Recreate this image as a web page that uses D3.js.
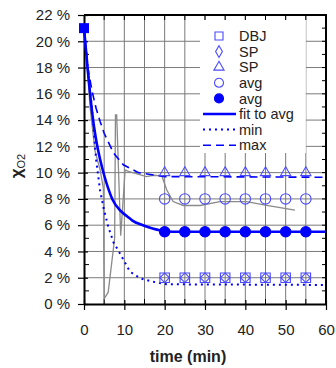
<!DOCTYPE html>
<html>
<head>
<meta charset="utf-8">
<script src="https://cdn.jsdelivr.net/npm/d3@7"></script>
<style>
  html, body { margin: 0; padding: 0; background: #fff; }
  svg { display: block; font-family: "Liberation Sans", Arial, sans-serif; }
</style>
</head>
<body>
<svg id="chart" width="336" height="368"></svg>
<script>
// Oxygen fraction (%) versus time (min)
const markerTimes = [20, 25, 30, 35, 40, 45, 50, 55];
const dbjValues   = [2, 2, 2, 2, 2, 2, 2, 2];           // open squares
const spDiamond   = [2, 2, 2, 2, 2, 2, 2, 2];           // open diamonds
const spTriangle  = [10, 10, 10, 10, 10, 10, 10, 10];   // open triangles
const avgOpen     = [8, 8, 8, 8, 8, 8, 8, 8];           // open circles
const avgFilled   = [5.5, 5.5, 5.5, 5.5, 5.5, 5.5, 5.5, 5.5]; // filled circles
const startPoint  = [[0, 21]];

const fitTime  = [0, 1, 2, 3, 4, 5, 6, 7, 9, 10.6, 12, 14.6, 17, 19, 22, 60];
const fitValue = [21, 17.6, 14.6, 12.5, 11.0, 9.8, 8.8, 8.0, 7.1, 6.7, 6.35, 6.0, 5.75, 5.6, 5.5, 5.5];

const minTime  = [0, 1, 2, 3, 4, 5, 6, 7.3, 9, 11.4, 14, 17, 20.5, 60];
const minValue = [21, 17.8, 14.8, 11.0, 8.6, 7.1, 5.9, 4.7, 3.8, 2.46, 1.95, 1.7, 1.5, 1.45];

const maxTime  = [0, 1, 2, 3, 4, 5, 7.3, 9.75, 13.5, 20, 60];
const maxValue = [21, 17.9, 16.2, 14.9, 13.9, 13.0, 11.5, 10.6, 10.0, 9.7, 9.65];

const measTime  = [0, 1, 1.5, 2.7, 4, 4.8, 5.0, 6.0, 7.6, 7.8, 8.1, 9.1, 10.2, 11, 15.5, 17.2, 19.3, 20.5, 22.1, 24.6, 28.8, 33.7, 40.3, 45.3, 52.3];
const measValue = [21, 17.2, 15.0, 11.7, 10.2, 8.8, 0.4, 0.9, 5.0, 14.4, 14.4, 5.2, 10.2, 10.1, 9.7, 9.8, 9.75, 8.7, 7.8, 7.5, 7.5, 7.8, 7.8, 7.5, 7.15];

const xTicks = [0, 10, 20, 30, 40, 50, 60];
const yTicks = [0, 2, 4, 6, 8, 10, 12, 14, 16, 18, 20, 22];

const svg = d3.select("#chart");
const x = d3.scaleLinear().domain([0, 60]).range([84, 326]);
const y = d3.scaleLinear().domain([0, 22]).range([304, 15]);

const blue = "#0000ff";
const markBlue = "#4a4aff";
const gridColor = "#7a7a7a";

// grid
const grid = svg.append("g");
grid.selectAll("line.v").data(d3.range(5, 60, 5)).join("line")
  .attr("x1", d => x(d)).attr("x2", d => x(d))
  .attr("y1", y(0)).attr("y2", y(22))
  .attr("stroke", gridColor).attr("stroke-width", 1);
grid.selectAll("line.h").data(d3.range(2, 22, 2)).join("line")
  .attr("x1", x(0)).attr("x2", x(60))
  .attr("y1", d => y(d)).attr("y2", d => y(d))
  .attr("stroke", gridColor).attr("stroke-width", 1);

// legend background covers the grid
svg.append("rect").attr("x", 200).attr("y", 20).attr("width", x(55) - 200).attr("height", 133)
  .attr("fill", "#fff");

// minor ticks
const minor = svg.append("g").attr("stroke", "#000").attr("stroke-width", 1);
minor.selectAll("line.ym").data(d3.range(1, 22, 2)).join("line")
  .attr("x1", x(0)).attr("x2", x(0) + 5).attr("y1", d => y(d)).attr("y2", d => y(d));
minor.selectAll("line.xm").data(d3.range(5, 60, 10)).join("line")
  .attr("x1", d => x(d)).attr("x2", d => x(d)).attr("y1", y(0)).attr("y2", y(0) - 5);
minor.selectAll("line.xt").data(d3.range(5, 60, 5)).join("line")
  .attr("x1", d => x(d)).attr("x2", d => x(d)).attr("y1", y(22)).attr("y2", y(22) + 5);
minor.selectAll("line.yr").data(d3.range(1, 22, 1)).join("line")
  .attr("x1", x(60)).attr("x2", x(60) - 4).attr("y1", d => y(d)).attr("y2", d => y(d));

// plot frame (top and right)
svg.append("path")
  .attr("d", `M${x(0)},${y(22)}H${x(60)}V${y(0)}`)
  .attr("fill", "none").attr("stroke", "#000").attr("stroke-width", 2);

// axes
const yAxis = svg.append("g").attr("transform", `translate(${x(0)},0)`)
  .call(d3.axisLeft(y).tickValues(yTicks).tickSizeInner(6).tickSizeOuter(0).tickPadding(8)
    .tickFormat(d => d + " %"));
yAxis.selectAll(".tick line").attr("x2", 4).attr("x1", -6);
const xAxis = svg.append("g").attr("transform", `translate(0,${y(0)})`)
  .call(d3.axisBottom(x).tickValues(xTicks).tickSizeInner(6).tickSizeOuter(0).tickPadding(14));
xAxis.selectAll(".tick line").attr("y1", -4).attr("y2", 6);
[yAxis, xAxis].forEach(a => {
  a.select(".domain").attr("stroke", "#000").attr("stroke-width", 2);
  a.selectAll(".tick line").attr("stroke", "#000").attr("stroke-width", 1.2);
  a.selectAll("text").attr("font-size", 15).attr("fill", "#222")
    .attr("font-family", "'Liberation Sans', Arial, sans-serif");
});

// axis titles
svg.append("text").attr("x", 188).attr("y", 362).attr("text-anchor", "middle")
  .attr("font-size", 16).attr("font-weight", "bold").attr("fill", "#222").text("time (min)");
const yt = svg.append("text").attr("transform", "translate(22,166) rotate(-90)")
  .attr("text-anchor", "middle").attr("font-size", 17).attr("font-weight", "bold").attr("fill", "#222");
yt.append("tspan").text("χ");
yt.append("tspan").attr("font-size", 11).attr("font-weight", "normal").attr("dy", 3).text("O2");

// curves
const line = d3.line().x(d => x(d[0])).y(d => y(d[1]));
const zipped = (t, v) => t.map((d, i) => [d, v[i]]);

svg.append("path").datum(zipped(measTime, measValue)).attr("d", line)
  .attr("fill", "none").attr("stroke", "#8a8a8a").attr("stroke-width", 1.3);
svg.append("path").datum(zipped(maxTime, maxValue)).attr("d", line)
  .attr("fill", "none").attr("stroke", blue).attr("stroke-width", 1.6).attr("stroke-dasharray", "8,5");
svg.append("path").datum(zipped(minTime, minValue)).attr("d", line)
  .attr("fill", "none").attr("stroke", blue).attr("stroke-width", 2).attr("stroke-dasharray", "2,4");
svg.append("path").datum(zipped(fitTime, fitValue)).attr("d", line.curve(d3.curveMonotoneX))
  .attr("fill", "none").attr("stroke", blue).attr("stroke-width", 2.6);

// markers
const sym = (type, size) => d3.symbol().type(type).size(size)();
function drawMarkers(vals, type, size, filled, rot) {
  svg.append("g").selectAll("path").data(markerTimes.map((t, i) => [t, vals[i]])).join("path")
    .attr("transform", d => `translate(${x(d[0])},${y(d[1])})` + (rot ? ` rotate(${rot})` : ""))
    .attr("d", sym(type, size))
    .attr("fill", filled ? blue : "none")
    .attr("stroke", filled ? blue : markBlue).attr("stroke-width", 1.1);
}
drawMarkers(dbjValues, d3.symbolSquare, 90, false);
drawMarkers(spDiamond, d3.symbolSquare, 45, false, 45);
drawMarkers(spTriangle, d3.symbolTriangle, 45, false);
drawMarkers(avgOpen, d3.symbolCircle, 85, false);
drawMarkers(avgFilled, d3.symbolCircle, 85, true);

svg.append("g").selectAll("path").data(startPoint).join("path")
  .attr("transform", d => `translate(${x(d[0])},${y(d[1])})`)
  .attr("d", sym(d3.symbolSquare, 100)).attr("fill", blue);

// legend
const legendItems = [
  { label: "DBJ", kind: "sym", type: d3.symbolSquare, size: 64 },
  { label: "SP", kind: "sym", type: d3.symbolDiamond, size: 40 },
  { label: "SP", kind: "sym", type: d3.symbolTriangle, size: 45 },
  { label: "avg", kind: "sym", type: d3.symbolCircle, size: 64 },
  { label: "avg", kind: "sym", type: d3.symbolCircle, size: 64, filled: true },
  { label: "fit to avg", kind: "line", width: 2.6, dash: null },
  { label: "min", kind: "line", width: 2, dash: "2,4" },
  { label: "max", kind: "line", width: 1.6, dash: "8,5" }
];
const lg = svg.append("g");
legendItems.forEach((it, i) => {
  const cy = 36 + i * 15.6;
  if (it.kind === "sym") {
    lg.append("path").attr("transform", `translate(219,${cy})`)
      .attr("d", sym(it.type, it.size))
      .attr("fill", it.filled ? blue : "none")
      .attr("stroke", it.filled ? blue : markBlue).attr("stroke-width", 1.1);
  } else {
    lg.append("line").attr("x1", 203).attr("x2", 236).attr("y1", cy).attr("y2", cy)
      .attr("stroke", blue).attr("stroke-width", it.width)
      .attr("stroke-dasharray", it.dash);
  }
  lg.append("text").attr("x", 239).attr("y", cy).attr("dy", "0.36em")
    .attr("font-size", 14.5).attr("fill", "#222").text(it.label);
});
</script>
</body>
</html>
